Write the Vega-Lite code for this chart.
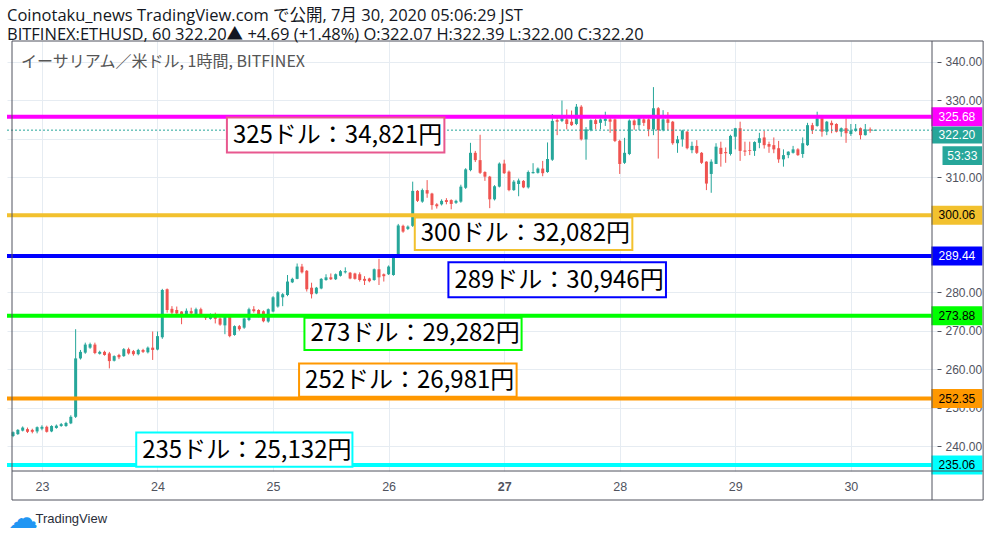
{
  "$schema": "https://vega.github.io/schema/vega-lite/v6.json",
  "width": 930,
  "height": 430,
  "autosize": {"type": "none"},
  "padding": {"left": 7, "top": 41, "right": 59, "bottom": 66},
  "background": "#ffffff",
  "config": {
    "view": {"stroke": null},
    "font": "Liberation Sans"
  },
  "title": {
    "text": "Coinotaku_news TradingView.com で公開, 7月 30, 2020 05:06:29 JST",
    "subtitle": "BITFINEX:ETHUSD, 60 322.20▲ +4.69 (+1.48%) O:322.07 H:322.39 L:322.00 C:322.20",
    "anchor": "start",
    "frame": "group",
    "font": "Open Sans, Noto Sans CJK JP",
    "subtitleFont": "Open Sans, Noto Sans CJK JP",
    "fontSize": 16.5,
    "subtitleFontSize": 16.5,
    "fontWeight": "normal",
    "color": "#131722",
    "subtitleColor": "#131722",
    "offset": -3,
    "subtitlePadding": 3
  },
  "data": {"values": [{}]},
  "datasets": {
    "candles": [
      {"t": "2020-07-22T18:00", "o": 242.6, "h": 243.8, "l": 242.3, "c": 243.6},
      {"t": "2020-07-22T19:00", "o": 243.1, "h": 244.4, "l": 242.9, "c": 244.2},
      {"t": "2020-07-22T20:00", "o": 244.0, "h": 245.1, "l": 243.8, "c": 244.8},
      {"t": "2020-07-22T21:00", "o": 244.4, "h": 244.8, "l": 243.4, "c": 243.7},
      {"t": "2020-07-22T22:00", "o": 244.2, "h": 244.5, "l": 243.3, "c": 243.7},
      {"t": "2020-07-22T23:00", "o": 243.8, "h": 245.1, "l": 243.3, "c": 244.9},
      {"t": "2020-07-23T00:00", "o": 244.5, "h": 245.4, "l": 244.1, "c": 245.0},
      {"t": "2020-07-23T01:00", "o": 245.0, "h": 245.3, "l": 243.5, "c": 243.7},
      {"t": "2020-07-23T02:00", "o": 243.8, "h": 245.4, "l": 243.6, "c": 245.2},
      {"t": "2020-07-23T03:00", "o": 244.7, "h": 245.6, "l": 244.5, "c": 245.3},
      {"t": "2020-07-23T04:00", "o": 245.2, "h": 246.0, "l": 245.0, "c": 245.7},
      {"t": "2020-07-23T05:00", "o": 245.2, "h": 246.3, "l": 245.0, "c": 246.0},
      {"t": "2020-07-23T06:00", "o": 245.9, "h": 248.0, "l": 245.7, "c": 247.6},
      {"t": "2020-07-23T07:00", "o": 247.6, "h": 270.4, "l": 247.3, "c": 262.8},
      {"t": "2020-07-23T08:00", "o": 262.8, "h": 265.0, "l": 262.5, "c": 264.5},
      {"t": "2020-07-23T09:00", "o": 264.3, "h": 266.9, "l": 264.0, "c": 266.4},
      {"t": "2020-07-23T10:00", "o": 265.6, "h": 266.9, "l": 265.3, "c": 266.5},
      {"t": "2020-07-23T11:00", "o": 266.4, "h": 266.9, "l": 263.9, "c": 264.2},
      {"t": "2020-07-23T12:00", "o": 264.0, "h": 264.8, "l": 263.8, "c": 264.5},
      {"t": "2020-07-23T13:00", "o": 264.5, "h": 264.8, "l": 263.5, "c": 263.7},
      {"t": "2020-07-23T14:00", "o": 264.1, "h": 264.5, "l": 260.2, "c": 262.1},
      {"t": "2020-07-23T15:00", "o": 262.2, "h": 263.6, "l": 262.0, "c": 263.4},
      {"t": "2020-07-23T16:00", "o": 263.7, "h": 264.0, "l": 262.6, "c": 263.1},
      {"t": "2020-07-23T17:00", "o": 263.4, "h": 265.5, "l": 263.2, "c": 265.2},
      {"t": "2020-07-23T18:00", "o": 265.2, "h": 265.6, "l": 263.8, "c": 264.1},
      {"t": "2020-07-23T19:00", "o": 264.7, "h": 265.0, "l": 263.5, "c": 263.9},
      {"t": "2020-07-23T20:00", "o": 263.9, "h": 265.3, "l": 263.6, "c": 265.0},
      {"t": "2020-07-23T21:00", "o": 265.0, "h": 265.3, "l": 264.2, "c": 264.5},
      {"t": "2020-07-23T22:00", "o": 264.4, "h": 265.9, "l": 264.1, "c": 265.6},
      {"t": "2020-07-23T23:00", "o": 265.6, "h": 269.8, "l": 262.4, "c": 265.0},
      {"t": "2020-07-24T00:00", "o": 265.1, "h": 269.8, "l": 264.9, "c": 268.6},
      {"t": "2020-07-24T01:00", "o": 268.3, "h": 280.9, "l": 267.9, "c": 280.6},
      {"t": "2020-07-24T02:00", "o": 280.8, "h": 281.0, "l": 274.7, "c": 275.4},
      {"t": "2020-07-24T03:00", "o": 275.7, "h": 276.4, "l": 274.1, "c": 274.7},
      {"t": "2020-07-24T04:00", "o": 275.4, "h": 276.3, "l": 274.1, "c": 274.5},
      {"t": "2020-07-24T05:00", "o": 275.0, "h": 275.1, "l": 271.7, "c": 274.3},
      {"t": "2020-07-24T06:00", "o": 273.8, "h": 275.8, "l": 273.6, "c": 275.2},
      {"t": "2020-07-24T07:00", "o": 275.1, "h": 276.0, "l": 274.1, "c": 274.5},
      {"t": "2020-07-24T08:00", "o": 274.3, "h": 276.0, "l": 274.1, "c": 275.6},
      {"t": "2020-07-24T09:00", "o": 275.6, "h": 276.0, "l": 273.6, "c": 273.8},
      {"t": "2020-07-24T10:00", "o": 274.0, "h": 274.2, "l": 272.8, "c": 273.3},
      {"t": "2020-07-24T11:00", "o": 273.1, "h": 274.5, "l": 272.9, "c": 274.3},
      {"t": "2020-07-24T12:00", "o": 273.8, "h": 274.7, "l": 271.9, "c": 273.1},
      {"t": "2020-07-24T13:00", "o": 273.2, "h": 273.5, "l": 271.3, "c": 271.6},
      {"t": "2020-07-24T14:00", "o": 271.4, "h": 274.2, "l": 269.1, "c": 274.0},
      {"t": "2020-07-24T15:00", "o": 273.8, "h": 274.0, "l": 268.3, "c": 268.6},
      {"t": "2020-07-24T16:00", "o": 268.9, "h": 271.4, "l": 268.7, "c": 271.2},
      {"t": "2020-07-24T17:00", "o": 271.2, "h": 271.5, "l": 270.0, "c": 270.4},
      {"t": "2020-07-24T18:00", "o": 270.8, "h": 273.4, "l": 270.5, "c": 273.2},
      {"t": "2020-07-24T19:00", "o": 272.8, "h": 276.0, "l": 272.5, "c": 275.6},
      {"t": "2020-07-24T20:00", "o": 275.6, "h": 276.4, "l": 274.7, "c": 275.1},
      {"t": "2020-07-24T21:00", "o": 275.4, "h": 275.6, "l": 273.5, "c": 273.7},
      {"t": "2020-07-24T22:00", "o": 275.1, "h": 275.3, "l": 272.2, "c": 272.5},
      {"t": "2020-07-24T23:00", "o": 272.4, "h": 275.8, "l": 272.1, "c": 275.6},
      {"t": "2020-07-25T00:00", "o": 275.0, "h": 279.0, "l": 274.8, "c": 278.7},
      {"t": "2020-07-25T01:00", "o": 276.3, "h": 280.3, "l": 276.0, "c": 280.0},
      {"t": "2020-07-25T02:00", "o": 278.7, "h": 279.8, "l": 276.4, "c": 279.5},
      {"t": "2020-07-25T03:00", "o": 279.3, "h": 284.5, "l": 279.0, "c": 282.8},
      {"t": "2020-07-25T04:00", "o": 282.6, "h": 283.8, "l": 282.4, "c": 283.5},
      {"t": "2020-07-25T05:00", "o": 283.5, "h": 287.5, "l": 283.4, "c": 286.7},
      {"t": "2020-07-25T06:00", "o": 286.7, "h": 287.4, "l": 284.9, "c": 285.2},
      {"t": "2020-07-25T07:00", "o": 285.6, "h": 285.8, "l": 280.2, "c": 280.8},
      {"t": "2020-07-25T08:00", "o": 281.2, "h": 282.5, "l": 278.4, "c": 279.5},
      {"t": "2020-07-25T09:00", "o": 279.7, "h": 281.4, "l": 279.5, "c": 281.2},
      {"t": "2020-07-25T10:00", "o": 281.0, "h": 283.7, "l": 280.8, "c": 283.5},
      {"t": "2020-07-25T11:00", "o": 283.2, "h": 284.7, "l": 283.0, "c": 283.9},
      {"t": "2020-07-25T12:00", "o": 283.9, "h": 284.9, "l": 283.2, "c": 283.4},
      {"t": "2020-07-25T13:00", "o": 283.4, "h": 284.9, "l": 283.2, "c": 284.7},
      {"t": "2020-07-25T14:00", "o": 284.3, "h": 285.8, "l": 284.1, "c": 285.5},
      {"t": "2020-07-25T15:00", "o": 285.2, "h": 286.5, "l": 284.9, "c": 285.5},
      {"t": "2020-07-25T16:00", "o": 285.1, "h": 285.3, "l": 283.4, "c": 283.6},
      {"t": "2020-07-25T17:00", "o": 284.9, "h": 285.1, "l": 283.3, "c": 283.5},
      {"t": "2020-07-25T18:00", "o": 284.7, "h": 285.2, "l": 282.8, "c": 283.2},
      {"t": "2020-07-25T19:00", "o": 283.5, "h": 284.2, "l": 281.9, "c": 283.0},
      {"t": "2020-07-25T20:00", "o": 283.6, "h": 283.8, "l": 282.6, "c": 282.9},
      {"t": "2020-07-25T21:00", "o": 283.2, "h": 286.2, "l": 283.0, "c": 286.0},
      {"t": "2020-07-25T22:00", "o": 286.0, "h": 288.7, "l": 281.9, "c": 283.9},
      {"t": "2020-07-25T23:00", "o": 284.7, "h": 284.9, "l": 282.8, "c": 284.2},
      {"t": "2020-07-26T00:00", "o": 284.7, "h": 287.0, "l": 284.5, "c": 286.7},
      {"t": "2020-07-26T01:00", "o": 284.5, "h": 289.6, "l": 284.3, "c": 289.3},
      {"t": "2020-07-26T02:00", "o": 289.3, "h": 297.8, "l": 289.0, "c": 297.4},
      {"t": "2020-07-26T03:00", "o": 297.3, "h": 297.6, "l": 295.5, "c": 295.8},
      {"t": "2020-07-26T04:00", "o": 296.5, "h": 297.4, "l": 296.2, "c": 297.1},
      {"t": "2020-07-26T05:00", "o": 297.3, "h": 308.8, "l": 297.0, "c": 306.4},
      {"t": "2020-07-26T06:00", "o": 306.4, "h": 306.6, "l": 303.5, "c": 303.8},
      {"t": "2020-07-26T07:00", "o": 303.6, "h": 307.0, "l": 303.3, "c": 306.6},
      {"t": "2020-07-26T08:00", "o": 306.6, "h": 309.2, "l": 304.6, "c": 305.7},
      {"t": "2020-07-26T09:00", "o": 305.7, "h": 305.9, "l": 301.5, "c": 302.7},
      {"t": "2020-07-26T10:00", "o": 302.9, "h": 303.2, "l": 301.8, "c": 302.4},
      {"t": "2020-07-26T11:00", "o": 302.9, "h": 304.2, "l": 302.6, "c": 303.8},
      {"t": "2020-07-26T12:00", "o": 304.0, "h": 304.5, "l": 302.9, "c": 303.5},
      {"t": "2020-07-26T13:00", "o": 304.0, "h": 304.2, "l": 301.6, "c": 303.0},
      {"t": "2020-07-26T14:00", "o": 303.3, "h": 304.1, "l": 303.0, "c": 303.8},
      {"t": "2020-07-26T15:00", "o": 303.6, "h": 308.0, "l": 303.3, "c": 307.5},
      {"t": "2020-07-26T16:00", "o": 307.2, "h": 312.3, "l": 306.9, "c": 312.0},
      {"t": "2020-07-26T17:00", "o": 311.8, "h": 318.9, "l": 311.5, "c": 316.3},
      {"t": "2020-07-26T18:00", "o": 316.3, "h": 316.8, "l": 313.9, "c": 314.4},
      {"t": "2020-07-26T19:00", "o": 314.4, "h": 321.0, "l": 310.8, "c": 311.1},
      {"t": "2020-07-26T20:00", "o": 311.3, "h": 311.5, "l": 309.0, "c": 310.1},
      {"t": "2020-07-26T21:00", "o": 310.1, "h": 310.3, "l": 301.9, "c": 304.2},
      {"t": "2020-07-26T22:00", "o": 304.2, "h": 307.9, "l": 303.9, "c": 307.6},
      {"t": "2020-07-26T23:00", "o": 307.5, "h": 313.8, "l": 307.3, "c": 313.5},
      {"t": "2020-07-27T00:00", "o": 313.5, "h": 314.5, "l": 310.8, "c": 311.0},
      {"t": "2020-07-27T01:00", "o": 311.4, "h": 311.7, "l": 306.3, "c": 306.6},
      {"t": "2020-07-27T02:00", "o": 306.6, "h": 309.2, "l": 306.4, "c": 308.8},
      {"t": "2020-07-27T03:00", "o": 308.2, "h": 309.6, "l": 305.0, "c": 309.1},
      {"t": "2020-07-27T04:00", "o": 309.0, "h": 309.2, "l": 307.1, "c": 307.3},
      {"t": "2020-07-27T05:00", "o": 307.3, "h": 311.7, "l": 307.0, "c": 311.3},
      {"t": "2020-07-27T06:00", "o": 311.0, "h": 313.6, "l": 310.9, "c": 311.3},
      {"t": "2020-07-27T07:00", "o": 311.1, "h": 312.5, "l": 310.9, "c": 312.2},
      {"t": "2020-07-27T08:00", "o": 312.2, "h": 314.2, "l": 310.2, "c": 311.0},
      {"t": "2020-07-27T09:00", "o": 311.3, "h": 319.0, "l": 311.1, "c": 314.7},
      {"t": "2020-07-27T10:00", "o": 314.5, "h": 326.4, "l": 314.2, "c": 324.6},
      {"t": "2020-07-27T11:00", "o": 324.8, "h": 325.8, "l": 320.9, "c": 324.4},
      {"t": "2020-07-27T12:00", "o": 324.6, "h": 329.9, "l": 324.3, "c": 325.3},
      {"t": "2020-07-27T13:00", "o": 325.0, "h": 327.6, "l": 322.4, "c": 323.8},
      {"t": "2020-07-27T14:00", "o": 324.4, "h": 327.3, "l": 323.3, "c": 323.5},
      {"t": "2020-07-27T15:00", "o": 323.8, "h": 329.0, "l": 323.5, "c": 328.3},
      {"t": "2020-07-27T16:00", "o": 328.3, "h": 328.7, "l": 319.5, "c": 319.8},
      {"t": "2020-07-27T17:00", "o": 319.8, "h": 323.0, "l": 314.5, "c": 322.4},
      {"t": "2020-07-27T18:00", "o": 322.2, "h": 325.0, "l": 321.9, "c": 324.8},
      {"t": "2020-07-27T19:00", "o": 324.8, "h": 325.2, "l": 322.4, "c": 323.8},
      {"t": "2020-07-27T20:00", "o": 324.1, "h": 325.3, "l": 322.4, "c": 325.0},
      {"t": "2020-07-27T21:00", "o": 324.6, "h": 327.0, "l": 323.3, "c": 325.2},
      {"t": "2020-07-27T22:00", "o": 325.0, "h": 325.5, "l": 321.5, "c": 324.4},
      {"t": "2020-07-27T23:00", "o": 325.0, "h": 325.3, "l": 319.1, "c": 319.4},
      {"t": "2020-07-28T00:00", "o": 319.4, "h": 319.7, "l": 310.8, "c": 313.4},
      {"t": "2020-07-28T01:00", "o": 313.7, "h": 320.2, "l": 313.4, "c": 316.3},
      {"t": "2020-07-28T02:00", "o": 316.0, "h": 325.0, "l": 315.7, "c": 324.7},
      {"t": "2020-07-28T03:00", "o": 324.7, "h": 325.0, "l": 322.3, "c": 323.5},
      {"t": "2020-07-28T04:00", "o": 323.5, "h": 326.1, "l": 322.2, "c": 325.3},
      {"t": "2020-07-28T05:00", "o": 325.0, "h": 325.5, "l": 323.3, "c": 324.1},
      {"t": "2020-07-28T06:00", "o": 325.0, "h": 325.3, "l": 320.6, "c": 322.4},
      {"t": "2020-07-28T07:00", "o": 322.4, "h": 333.4, "l": 320.9, "c": 327.9},
      {"t": "2020-07-28T08:00", "o": 327.9, "h": 328.2, "l": 314.8, "c": 322.2},
      {"t": "2020-07-28T09:00", "o": 322.2, "h": 327.4, "l": 321.9, "c": 325.0},
      {"t": "2020-07-28T10:00", "o": 325.0, "h": 326.9, "l": 322.2, "c": 324.1},
      {"t": "2020-07-28T11:00", "o": 324.4, "h": 324.6, "l": 318.4, "c": 318.8},
      {"t": "2020-07-28T12:00", "o": 318.8, "h": 320.7, "l": 316.3, "c": 319.8},
      {"t": "2020-07-28T13:00", "o": 319.8, "h": 322.3, "l": 317.9, "c": 322.1},
      {"t": "2020-07-28T14:00", "o": 321.8, "h": 322.0, "l": 317.2, "c": 317.5},
      {"t": "2020-07-28T15:00", "o": 317.0, "h": 319.2, "l": 316.2, "c": 318.1},
      {"t": "2020-07-28T16:00", "o": 318.1, "h": 319.6, "l": 316.0, "c": 316.3},
      {"t": "2020-07-28T17:00", "o": 316.3, "h": 316.5, "l": 313.4, "c": 313.7},
      {"t": "2020-07-28T18:00", "o": 314.0, "h": 314.1, "l": 306.6, "c": 308.3},
      {"t": "2020-07-28T19:00", "o": 310.8, "h": 314.6, "l": 305.9, "c": 314.0},
      {"t": "2020-07-28T20:00", "o": 313.4, "h": 318.8, "l": 313.4, "c": 317.9},
      {"t": "2020-07-28T21:00", "o": 317.6, "h": 319.2, "l": 312.7, "c": 316.0},
      {"t": "2020-07-28T22:00", "o": 316.5, "h": 317.7, "l": 313.7, "c": 316.2},
      {"t": "2020-07-28T23:00", "o": 316.0, "h": 321.0, "l": 315.6, "c": 320.7},
      {"t": "2020-07-29T00:00", "o": 320.5, "h": 322.8, "l": 317.2, "c": 322.7},
      {"t": "2020-07-29T01:00", "o": 322.7, "h": 324.4, "l": 314.2, "c": 316.8},
      {"t": "2020-07-29T02:00", "o": 316.9, "h": 319.2, "l": 315.5, "c": 316.6},
      {"t": "2020-07-29T03:00", "o": 317.0, "h": 319.2, "l": 315.7, "c": 316.8},
      {"t": "2020-07-29T04:00", "o": 316.8, "h": 319.3, "l": 315.5, "c": 319.1},
      {"t": "2020-07-29T05:00", "o": 318.9, "h": 321.5, "l": 317.5, "c": 320.1},
      {"t": "2020-07-29T06:00", "o": 320.3, "h": 322.0, "l": 317.4, "c": 318.3},
      {"t": "2020-07-29T07:00", "o": 318.6, "h": 319.2, "l": 316.3, "c": 317.9},
      {"t": "2020-07-29T08:00", "o": 318.3, "h": 320.3, "l": 316.2, "c": 317.2},
      {"t": "2020-07-29T09:00", "o": 317.5, "h": 319.4, "l": 313.7, "c": 314.6},
      {"t": "2020-07-29T10:00", "o": 314.6, "h": 317.2, "l": 312.7, "c": 315.7},
      {"t": "2020-07-29T11:00", "o": 315.7, "h": 316.7, "l": 314.9, "c": 316.6},
      {"t": "2020-07-29T12:00", "o": 316.3, "h": 318.1, "l": 316.1, "c": 317.2},
      {"t": "2020-07-29T13:00", "o": 317.2, "h": 317.5, "l": 315.5, "c": 315.7},
      {"t": "2020-07-29T14:00", "o": 316.0, "h": 320.3, "l": 315.0, "c": 318.8},
      {"t": "2020-07-29T15:00", "o": 318.3, "h": 324.1, "l": 318.1, "c": 323.5},
      {"t": "2020-07-29T16:00", "o": 323.5, "h": 324.1, "l": 321.2, "c": 322.2},
      {"t": "2020-07-29T17:00", "o": 323.3, "h": 327.0, "l": 323.1, "c": 325.3},
      {"t": "2020-07-29T18:00", "o": 325.3, "h": 325.5, "l": 320.5, "c": 321.8},
      {"t": "2020-07-29T19:00", "o": 321.8, "h": 324.6, "l": 320.9, "c": 324.4},
      {"t": "2020-07-29T20:00", "o": 324.1, "h": 324.7, "l": 321.4, "c": 323.5},
      {"t": "2020-07-29T21:00", "o": 323.8, "h": 324.0, "l": 321.6, "c": 321.8},
      {"t": "2020-07-29T22:00", "o": 321.8, "h": 322.9, "l": 320.5, "c": 322.7},
      {"t": "2020-07-29T23:00", "o": 322.7, "h": 325.3, "l": 318.9, "c": 321.4},
      {"t": "2020-07-30T00:00", "o": 321.2, "h": 323.8, "l": 320.7, "c": 322.1},
      {"t": "2020-07-30T01:00", "o": 322.0, "h": 323.8, "l": 321.8, "c": 322.6},
      {"t": "2020-07-30T02:00", "o": 322.7, "h": 322.9, "l": 319.8, "c": 320.9},
      {"t": "2020-07-30T03:00", "o": 320.9, "h": 323.8, "l": 320.8, "c": 322.4},
      {"t": "2020-07-30T04:00", "o": 322.4, "h": 322.9, "l": 321.5, "c": 322.1},
      {"t": "2020-07-30T05:00", "o": 322.07, "h": 322.39, "l": 322.0, "c": 322.2}
    ],
    "levels": [
      {"v": 325.68}, {"v": 300.06}, {"v": 289.44},
      {"v": 273.88}, {"v": 252.35}, {"v": 235.06}
    ],
    "notes": [
      {"k": "325", "text": "325ドル：34,821円", "t0": "2020-07-24T14:25", "t1": "2020-07-26T11:35", "top": 325.5, "bot": 316.4},
      {"k": "300", "text": "300ドル：32,082円", "t0": "2020-07-26T05:26", "t1": "2020-07-28T02:37", "top": 299.5, "bot": 291.0},
      {"k": "289", "text": "289ドル：30,946円", "t0": "2020-07-26T12:25", "t1": "2020-07-28T09:36", "top": 287.8, "bot": 278.7},
      {"k": "273", "text": "273ドル：29,282円", "t0": "2020-07-25T06:31", "t1": "2020-07-27T03:37", "top": 273.4, "bot": 265.0},
      {"k": "252", "text": "252ドル：26,981円", "t0": "2020-07-25T05:24", "t1": "2020-07-27T02:35", "top": 261.5, "bot": 252.8},
      {"k": "235", "text": "235ドル：25,132円", "t0": "2020-07-23T19:35", "t1": "2020-07-25T16:29", "top": 243.5, "bot": 234.6}
    ]
  },
  "layer": [
    {
      "data": {"name": "candles"},
      "mark": {"type": "rule", "strokeWidth": 1},
      "encoding": {
        "x": {
          "field": "t",
          "type": "temporal",
          "scale": {
            "domain": [
              {"year": 2020, "month": 7, "date": 22, "hours": 17, "minutes": 47},
              {"year": 2020, "month": 7, "date": 30, "hours": 16, "minutes": 51}
            ]
          },
          "axis": {
            "format": "%-d",
            "tickCount": {"interval": "day", "step": 1},
            "grid": true,
            "gridColor": "#e6ecf2",
            "domain": false,
            "ticks": false,
            "tickSize": 0,
            "labelPadding": 9,
            "labelFontSize": 12.5,
            "labelColor": "#50535e",
            "labelFontWeight": {"condition": {"test": "date(datum.value) === 27", "value": "bold"}, "value": "normal"},
            "title": "TradingView",
            "titleFont": "Liberation Sans",
            "titleFontSize": 13,
            "titleFontWeight": "normal",
            "titleColor": "#2a2e39",
            "titleAnchor": "start",
            "titleAlign": "left",
            "titleBaseline": "alphabetic",
            "titleX": 28,
            "titleY": 51
          }
        },
        "y": {
          "field": "l",
          "type": "quantitative",
          "scale": {"domain": [233.5, 345.4], "nice": false, "zero": false},
          "axis": {
            "orient": "right",
            "values": [240, 250, 260, 270, 280, 290, 300, 310, 320, 330, 340],
            "format": ".2f",
            "labelExpr": "indexof([290, 300, 320], datum.value) >= 0 ? '' : datum.label",
            "grid": true,
            "gridColor": "#e6ecf2",
            "domain": false,
            "tickSize": 4,
            "tickColor": "#50535e",
            "labelPadding": 4,
            "labelFontSize": 12,
            "labelColor": "#50535e",
            "title": null
          }
        },
        "y2": {"field": "h"},
        "color": {"condition": {"test": "datum.c >= datum.o", "value": "#26a69a"}, "value": "#ef5350"}
      }
    },
    {
      "data": {"name": "candles"},
      "mark": {"type": "bar", "width": 3},
      "encoding": {
        "x": {"field": "t", "type": "temporal"},
        "y": {"field": "o", "type": "quantitative"},
        "y2": {"field": "c"},
        "color": {"condition": {"test": "datum.c >= datum.o", "value": "#26a69a"}, "value": "#ef5350"}
      }
    },
    {
      "data": {"name": "levels"},
      "mark": {"type": "rule", "strokeWidth": 4},
      "encoding": {
        "y": {"field": "v", "type": "quantitative"},
        "color": {
          "field": "v",
          "type": "nominal",
          "scale": {
            "domain": [325.68, 300.06, 289.44, 273.88, 252.35, 235.06],
            "range": ["#ff00ff", "#f2c12e", "#0000ff", "#00ff00", "#ff9800", "#00ffff"]
          },
          "legend": null
        }
      }
    },
    {
      "mark": {"type": "rule", "strokeWidth": 1, "strokeDash": [2, 2], "color": "#26a69a"},
      "encoding": {"y": {"datum": 322.2, "type": "quantitative"}}
    },
    {
      "data": {"name": "notes"},
      "mark": {"type": "rect", "fill": "#ffffff", "strokeWidth": 2},
      "encoding": {
        "x": {"field": "t0", "type": "temporal"},
        "x2": {"field": "t1"},
        "y": {"field": "top", "type": "quantitative"},
        "y2": {"field": "bot"},
        "stroke": {
          "field": "k",
          "type": "nominal",
          "scale": {
            "domain": ["325", "300", "289", "273", "252", "235"],
            "range": ["#e8588f", "#f2c12e", "#0000ff", "#00ff00", "#ff9800", "#00ffff"]
          },
          "legend": null
        }
      }
    },
    {
      "data": {"name": "notes"},
      "mark": {"type": "text", "align": "left", "baseline": "alphabetic", "dx": 6, "dy": -9, "font": "Noto Sans CJK JP", "fontSize": 24, "color": "#000000"},
      "encoding": {
        "x": {"field": "t0", "type": "temporal"},
        "y": {"field": "bot", "type": "quantitative"},
        "text": {"field": "text"}
      }
    },
    {
      "data": {"name": "levels"},
      "mark": {"type": "tick", "orient": "horizontal", "size": 51, "thickness": 19, "opacity": 1},
      "encoding": {
        "x": {"datum": {"year": 2020, "month": 7, "date": 30, "hours": 22, "minutes": 1}, "type": "temporal"},
        "y": {"field": "v", "type": "quantitative"},
        "color": {"field": "v", "type": "nominal", "legend": null}
      }
    },
    {
      "data": {"name": "levels"},
      "mark": {"type": "text", "align": "center", "baseline": "middle", "fontSize": 12},
      "encoding": {
        "x": {"datum": {"year": 2020, "month": 7, "date": 30, "hours": 22, "minutes": 1}, "type": "temporal"},
        "y": {"field": "v", "type": "quantitative"},
        "text": {"field": "v", "format": ".2f"},
        "color": {"condition": {"test": "datum.v === 325.68 || datum.v === 289.44", "value": "#ffffff"}, "value": "#000000"}
      }
    },
    {
      "mark": {"type": "rect", "color": "#26a69a"},
      "encoding": {
        "x": {"datum": {"year": 2020, "month": 7, "date": 30, "hours": 16, "minutes": 51}, "type": "temporal"},
        "x2": {"datum": {"year": 2020, "month": 7, "date": 31, "hours": 3, "minutes": 15}},
        "y": {"datum": 323.15, "type": "quantitative"},
        "y2": {"datum": 318.7}
      }
    },
    {
      "mark": {"type": "text", "align": "center", "baseline": "middle", "fontSize": 12, "color": "#ffffff"},
      "encoding": {
        "x": {"datum": {"year": 2020, "month": 7, "date": 30, "hours": 22, "minutes": 1}, "type": "temporal"},
        "y": {"datum": 320.9, "type": "quantitative"},
        "text": {"value": "322.20"}
      }
    },
    {
      "mark": {"type": "rect", "color": "#26a69a"},
      "encoding": {
        "x": {"datum": {"year": 2020, "month": 7, "date": 30, "hours": 19, "minutes": 2}, "type": "temporal"},
        "x2": {"datum": {"year": 2020, "month": 7, "date": 31, "hours": 3, "minutes": 15}},
        "y": {"datum": 318.0, "type": "quantitative"},
        "y2": {"datum": 313.1}
      }
    },
    {
      "mark": {"type": "text", "align": "center", "baseline": "middle", "fontSize": 12, "color": "#ffffff"},
      "encoding": {
        "x": {"datum": {"year": 2020, "month": 7, "date": 30, "hours": 23, "minutes": 9}, "type": "temporal"},
        "y": {"datum": 315.55, "type": "quantitative"},
        "text": {"value": "53:33"}
      }
    },
    {
      "mark": {"type": "rule", "strokeWidth": 1, "color": "#50535e"},
      "encoding": {
        "x": {"datum": {"year": 2020, "month": 7, "date": 22, "hours": 17, "minutes": 47}, "type": "temporal"},
        "y": {"datum": 345.4, "type": "quantitative"},
        "y2": {"datum": 225.95}
      }
    },
    {
      "mark": {"type": "rule", "strokeWidth": 1, "color": "#50535e"},
      "encoding": {
        "x": {"datum": {"year": 2020, "month": 7, "date": 30, "hours": 16, "minutes": 51}, "type": "temporal"},
        "y": {"datum": 345.4, "type": "quantitative"},
        "y2": {"datum": 225.95}
      }
    },
    {
      "mark": {"type": "rule", "strokeWidth": 1, "color": "#50535e"},
      "encoding": {
        "x": {"datum": {"year": 2020, "month": 7, "date": 31, "hours": 3, "minutes": 28}, "type": "temporal"},
        "y": {"datum": 345.4, "type": "quantitative"},
        "y2": {"datum": 225.95}
      }
    },
    {
      "data": {"values": [{"p": 345.4}, {"p": 233.5}, {"p": 225.95}]},
      "mark": {"type": "rule", "strokeWidth": 1, "color": "#50535e"},
      "encoding": {
        "y": {"field": "p", "type": "quantitative"},
        "x": {"datum": {"year": 2020, "month": 7, "date": 22, "hours": 17, "minutes": 47}, "type": "temporal"},
        "x2": {"datum": {"year": 2020, "month": 7, "date": 31, "hours": 3, "minutes": 28}}
      }
    },
    {
      "mark": {"type": "text", "align": "left", "baseline": "alphabetic", "dx": 9, "dy": 26, "font": "Noto Sans CJK JP", "fontSize": 16, "color": "#555555"},
      "encoding": {
        "x": {"datum": {"year": 2020, "month": 7, "date": 22, "hours": 17, "minutes": 47}, "type": "temporal"},
        "y": {"datum": 345.4, "type": "quantitative"},
        "text": {"value": "イーサリアム／米ドル, 1時間, BITFINEX"}
      }
    },
    {
      "mark": {"type": "text", "align": "center", "baseline": "middle", "dx": 11, "font": "DejaVu Sans", "fontSize": 30, "color": "#2196f3"},
      "encoding": {
        "x": {"datum": {"year": 2020, "month": 7, "date": 22, "hours": 17, "minutes": 47}, "type": "temporal"},
        "y": {"datum": 221.0, "type": "quantitative"},
        "text": {"value": "☁"}
      }
    }
  ]
}
